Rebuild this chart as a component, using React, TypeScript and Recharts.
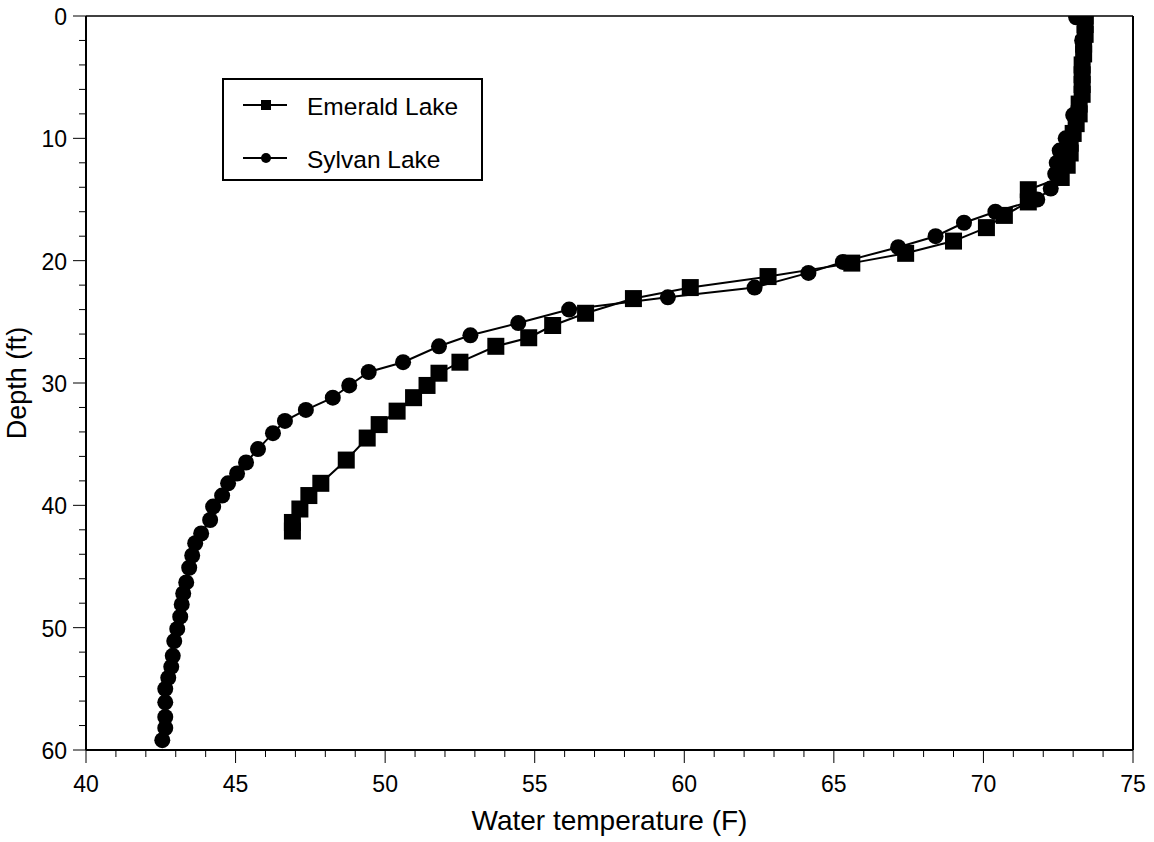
import * as React from 'react';
import { ScatterChart, Scatter, XAxis, YAxis, ReferenceLine, Legend } from 'recharts';

// values
const emeraldTemp = [73.4, 73.4, 73.4, 73.35, 73.35, 73.3, 73.3, 73.3, 73.3, 73.2, 73.2, 73.1, 73.0, 72.9, 72.9, 72.8, 72.6, 71.5, 71.5, 70.7, 70.1, 69.0, 67.4, 65.6, 62.8, 60.2, 58.3, 56.7, 55.6, 54.8, 53.7, 52.5, 51.8, 51.4, 50.95, 50.4, 49.8, 49.4, 48.7, 47.85, 47.45, 47.15, 46.9, 46.9];
const emeraldDepth = [0, 0.7, 1.5, 2.3, 3.1, 4.0, 4.8, 5.6, 6.4, 7.2, 8.0, 8.8, 9.6, 10.4, 11.2, 12.2, 13.2, 14.2, 15.2, 16.3, 17.3, 18.4, 19.4, 20.2, 21.3, 22.2, 23.1, 24.3, 25.3, 26.3, 27.0, 28.3, 29.2, 30.2, 31.2, 32.3, 33.4, 34.5, 36.3, 38.2, 39.2, 40.3, 41.4, 42.1];

const sylvanTemp = [73.1, 73.3, 73.3, 73.3, 73.0, 72.75, 72.55, 72.45, 72.4, 72.25, 71.8, 70.4, 69.35, 68.4, 67.15, 65.3, 64.15, 62.35, 59.45, 56.15, 54.45, 52.85, 51.8, 50.6, 49.45, 48.8, 48.25, 47.35, 46.65, 46.25, 45.75, 45.35, 45.05, 44.75, 44.55, 44.25, 44.15, 43.85, 43.65, 43.55, 43.45, 43.35, 43.25, 43.2, 43.15, 43.05, 42.95, 42.9, 42.85, 42.75, 42.65, 42.65, 42.65, 42.65, 42.55];
const sylvanDepth = [0.1, 2, 4, 6, 8.1, 10.0, 11.0, 12.0, 12.9, 14.1, 15.0, 16.0, 16.9, 18.0, 18.9, 20.1, 21.0, 22.2, 23.0, 24.0, 25.1, 26.1, 27.0, 28.3, 29.1, 30.2, 31.2, 32.2, 33.1, 34.1, 35.4, 36.5, 37.4, 38.2, 39.2, 40.1, 41.2, 42.3, 43.1, 44.1, 45.1, 46.3, 47.2, 48.1, 49.1, 50.1, 51.1, 52.3, 53.2, 54.1, 55.0, 56.1, 57.3, 58.2, 59.2];

const seriesNames = ['Emerald Lake', 'Sylvan Lake'];

const xTicks = [40, 41, 42, 43, 44, 45, 46, 47, 48, 49, 50, 51, 52, 53, 54, 55, 56, 57, 58, 59, 60, 61, 62, 63, 64, 65, 66, 67, 68, 69, 70, 71, 72, 73, 74, 75];
const xLabels = [40, 45, 50, 55, 60, 65, 70, 75];
const yTicks = [0, 2, 4, 6, 8, 10, 12, 14, 16, 18, 20, 22, 24, 26, 28, 30, 32, 34, 36, 38, 40, 42, 44, 46, 48, 50, 52, 54, 56, 58, 60];
const yLabels = [0, 10, 20, 30, 40, 50, 60];

const emerald = emeraldTemp.map((t, i) => ({ t, d: emeraldDepth[i] }));
const sylvan = sylvanTemp.map((t, i) => ({ t, d: sylvanDepth[i] }));

const FONT = '"Liberation Sans", Arial, Helvetica, sans-serif';

const SquareMark = (p: any) => (
  <rect x={p.cx - 8.5} y={p.cy - 8.5} width={17} height={17} fill="#000" />
);
const CircleMark = (p: any) => <circle cx={p.cx} cy={p.cy} r={8} fill="#000" />;

const XTick = (p: any) => {
  const v = p.payload.value;
  const major = xLabels.includes(v);
  return (
    <g>
      <line x1={p.x} x2={p.x} y1={p.y} y2={p.y + (major ? 13 : 7)} stroke="#000" strokeWidth={1} />
      {major && (
        <text x={p.x} y={p.y + 34} textAnchor="middle" dominantBaseline="central" fontSize={23} fontFamily={FONT} fill="#000">
          {v}
        </text>
      )}
    </g>
  );
};

const YTick = (p: any) => {
  const v = p.payload.value;
  const major = yLabels.includes(v);
  return (
    <g>
      <line x1={p.x - (major ? 13 : 7)} x2={p.x} y1={p.y} y2={p.y} stroke="#000" strokeWidth={1} />
      {major && (
        <text x={p.x - 19} y={p.y + 1} textAnchor="end" dominantBaseline="central" fontSize={23} fontFamily={FONT} fill="#000">
          {v}
        </text>
      )}
    </g>
  );
};

const LegendBox = (props: any) => {
  const items = props.payload || [];
  return (
    <div style={{ width: 261, height: 103, border: '2px solid #000', boxSizing: 'border-box', position: 'relative', background: '#fff' }}>
      <svg width={257} height={99} style={{ position: 'absolute', left: 0, top: 0 }}>
        {items.map((it: any, i: number) => {
          const cy = i === 0 ? 25 : 78;
          return (
            <g key={it.value}>
              <line x1={19} x2={63} y1={cy} y2={cy} stroke="#000" strokeWidth={2} />
              {i === 0 ? (
                <rect x={37} y={cy - 5} width={10} height={10} fill="#000" />
              ) : (
                <circle cx={42} cy={cy} r={5} fill="#000" />
              )}
              <text x={83} y={cy + 1} dominantBaseline="central" fontSize={24.5} fontFamily={FONT} fill="#000">
                {it.value}
              </text>
            </g>
          );
        })}
      </svg>
    </div>
  );
};

export default function App() {
  return (
    <div style={{ position: 'absolute', left: 0, top: 0, width: 1154, height: 842, background: '#fff' }}>
      <ScatterChart width={1154} height={842} margin={{ top: 16, right: 21, left: 0, bottom: 0 }}>
        <XAxis
          type="number"
          dataKey="t"
          domain={[40, 75]}
          ticks={xTicks}
          interval={0}
          height={92}
          tickSize={0}
          tickMargin={0}
          tickLine={false}
          tick={<XTick />}
          axisLine={{ stroke: '#000', strokeWidth: 2 }}
          allowDataOverflow
          label={(lp: any) => {
            const vb = lp.viewBox;
            return (
              <text x={vb.x + vb.width / 2} y={vb.y + 70} textAnchor="middle" dominantBaseline="central" fontSize={28} fontFamily={FONT} fill="#000">
                Water temperature (F)
              </text>
            );
          }}
        />
        <YAxis
          type="number"
          dataKey="d"
          domain={[0, 60]}
          reversed
          ticks={yTicks}
          interval={0}
          width={86}
          tickSize={0}
          tickMargin={0}
          tickLine={false}
          tick={<YTick />}
          axisLine={{ stroke: '#000', strokeWidth: 2 }}
          allowDataOverflow
          label={(lp: any) => {
            const vb = lp.viewBox;
            const cy = vb.y + vb.height / 2;
            return (
              <text x={17} y={cy} transform={`rotate(-90 17 ${cy})`} textAnchor="middle" dominantBaseline="central" fontSize={27} fontFamily={FONT} fill="#000">
                Depth (ft)
              </text>
            );
          }}
        />
        <ReferenceLine y={0} stroke="#000" strokeWidth={1.5} />
        <ReferenceLine x={75} stroke="#000" strokeWidth={2} />
        <Legend
          layout="vertical"
          align="center"
          verticalAlign="middle"
          content={<LegendBox />}
          wrapperStyle={{ left: 222, top: 78, width: 261, height: 103 }}
        />
        <Scatter
          name={seriesNames[0]}
          data={emerald}
          fill="#000"
          line={{ stroke: '#000', strokeWidth: 2 }}
          lineType="joint"
          shape={<SquareMark />}
          isAnimationActive={false}
        />
        <Scatter
          name={seriesNames[1]}
          data={sylvan}
          fill="#000"
          line={{ stroke: '#000', strokeWidth: 2 }}
          lineType="joint"
          shape={<CircleMark />}
          isAnimationActive={false}
        />
      </ScatterChart>
    </div>
  );
}
